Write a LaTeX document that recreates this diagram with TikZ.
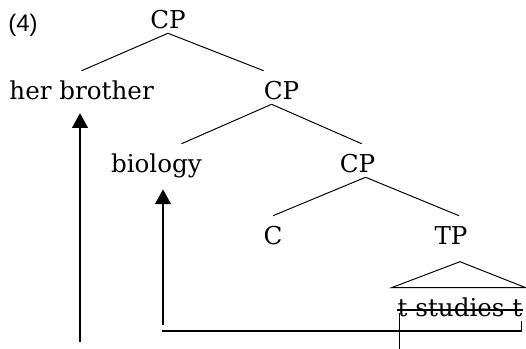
\documentclass[tikz,border=0pt]{standalone}
\usepackage{fontspec}
\setmainfont{DejaVu Serif}
\newfontfamily\exfont{Liberation Sans}
\usetikzlibrary{arrows.meta}

\tikzset{
  cat/.style={anchor=base, inner sep=0pt, text height=0.725cm, text depth=0.1cm,
    font=\fontsize{17.5}{20}\selectfont},
  branch/.style={line width=0.7pt},
  move/.style={-{Triangle[length=10.5pt,width=11pt]}, line width=1.8pt},
}

\begin{document}
\begin{tikzpicture}
  \useasboundingbox (0,0) rectangle (13.15,-8.725);

  \node[anchor=base, inner sep=0pt, font=\exfont\fontsize{17}{20}\selectfont] (ex) at (0.575,-0.8) {(4)};
  \node[cat] (cp1) at (4.2,-0.725) {CP};
  \node[cat] (spec1) at (2.04,-2.5) {her brother};
  \node[cat] (cp2) at (7.04,-2.5) {CP};
  \node[cat] (spec2) at (3.91,-4.325) {biology};
  \node[cat] (cp3) at (8.94,-4.325) {CP};
  \node[cat] (c) at (6.825,-6.125) {C};
  \node[cat] (tp) at (11.275,-6.125) {TP};
  \node[cat] (tst) at (11.5,-7.925) {t studies t};

  \draw[branch] (cp1.south) -- (spec1.north);
  \draw[branch] (cp1.south) -- ([xshift=-0.45cm]cp2.north);
  \draw[branch] ([xshift=-0.25cm]cp2.south) -- ([xshift=0.63cm]spec2.north);
  \draw[branch] ([xshift=-0.25cm]cp2.south) -- ([xshift=0.1cm]cp3.north);
  \draw[branch] ([xshift=0.2cm]cp3.south) -- (c.north);
  \draw[branch] ([xshift=0.2cm]cp3.south) -- ([xshift=0.2cm]tp.north);

  % roof over the TP, struck-out copies below it
  \coordinate (apex) at ([yshift=0.65cm]tst.north);
  \draw[branch] ([xshift=-0.15cm]tst.north west) -- (apex) -- ([xshift=0.08cm]tst.north east) -- cycle;
  \draw[line width=1.2pt] ([yshift=0.175cm]tst.base west) -- ([yshift=0.175cm]tst.base east);

  % movement
  \coordinate (foot1) at (2.0,-8.55);
  \coordinate (foot2) at (4.075,-8.125);
  \coordinate (low) at (4.05,-8.275);
  \draw[move, shorten >=0.22cm] (foot1) -- (foot1 |- spec1.south);
  \draw[move, shorten >=0.3cm] (foot2) -- (foot2 |- spec2.south);
  \draw[line width=1pt] ([xshift=-0.03cm]tst.south east) |- (low);
  \draw[line width=0.8pt] ([shift={(0.06,0.2)}]tst.south west) -- ++(0,-0.9);
\end{tikzpicture}
\end{document}
